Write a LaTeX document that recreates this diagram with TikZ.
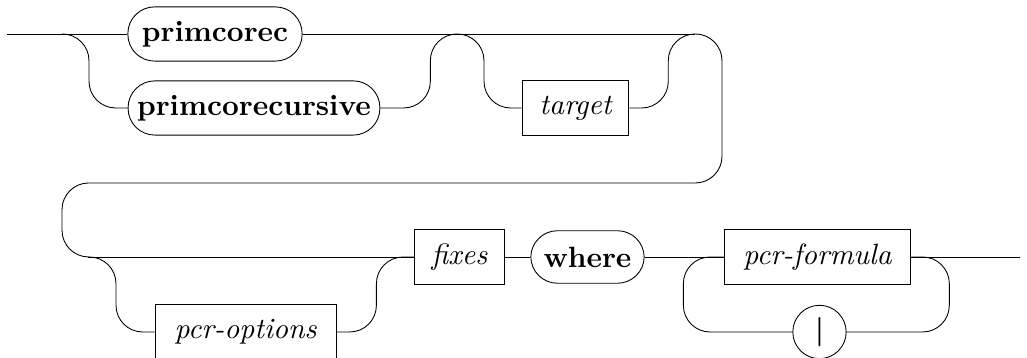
\documentclass[tikz,border=0pt]{standalone}
\tikzset{%
	term/.style    	= {draw, rectangle, rounded corners=3.2mm, font=\bfseries, minimum height=6.5mm, inner xsep=1pt},
	nonterm/.style 	= {draw, rectangle, font=\itshape, minimum height=6.5mm},
	symbox/.style  	= {draw, circle, minimum size=6.4mm, inner sep=0pt}, % Symbol
	split/.style   	= {coordinate}, % Branch point
	track/.style   	= {rounded corners=3.2mm} % Railroad bend
}

\begin{document}
\begin{tikzpicture}[x=0.012cm, y=-0.012cm, line width=0.3pt]
	\useasboundingbox (0,0) rectangle (1027,358);
	\draw % Drawing the first row
	node at (7,34) [split] (in) {}
	node at (62,34) [split] (s1) {}
	node at (215,34) [term, minimum width=2.09cm] (primcorec) {primcorec}
	node at (254,108) [term, minimum width=3.02cm] (primcorecursive) {primcorecursive}
	node at (457,34) [split] (j1) {}
	node at (575.5,108) [nonterm, minimum width=1.28cm] (target) {target}
	node at (695,34) [split] (j2) {}
	;
	\draw % Drawing the second row
	node at (88,257) [split] (s3) {}
	node at (245.5,332) [nonterm, minimum width=2.17cm, minimum height=6.7mm] (pcroptions) {pcr-options}
	node at (459.5,257) [nonterm, minimum width=1.07cm] (fixes) {fixes}
	node at (587.5,257) [term, minimum width=1.36cm, minimum height=6.3mm] (where) {where}
	node at (817.5,257) [nonterm, minimum width=2.24cm] (pcrformula) {pcr-formula}
	node at (819.5,332) [symbox] (sep) {\textbf{|}}
	node at (1020,257) [split] (out) {}
	;

	% Drawing the tracks
	\draw (in) -- (primcorec);
	\draw (primcorec) -- (j2);
	\draw[track] (s1) -- ++(27,0) |- (primcorecursive);
	\draw[track] (primcorecursive.east) -| ++(50,-74) -- (j1);
	\draw[track] (j1) -- ++(27,0) |- (target);
	\draw[track] (target.east) -- ++(39,0) |- (j2);
	\draw[track] (j2) -- ++(27,0) |- ++(-660,149) |- (s3);
	\draw (s3) -- (fixes);
	\draw[track] (s3) -- ++(28,0) |- (pcroptions);
	\draw[track] (pcroptions.east) -- ++(40,0) |- (fixes);
	\draw (fixes) -- (where);
	\draw (where) -- (pcrformula);
	\draw (pcrformula) -- (out);
	\draw[track] (pcrformula.east) -- ++(38,0) |- (sep);
	\draw[track] (sep.west) -- ++(-109,0) |- (pcrformula);
\end{tikzpicture}
\end{document}
